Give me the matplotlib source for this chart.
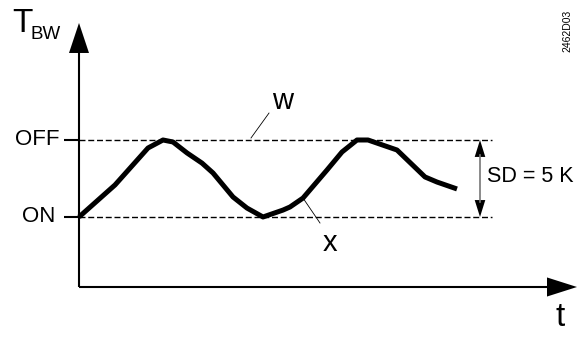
import numpy as np
import matplotlib
matplotlib.use('Agg')
import matplotlib.pyplot as plt

# switching band of the boiler water temperature (K above ON point)
sd = 5.0
on_level = 0.0
off_level = on_level + sd

# actual value x over time (arbitrary time units)
time = [0, 3.6, 6.9, 8.4, 9.4, 10.8, 12.3, 13.4, 15.4, 16.8, 18.4, 20.4,
        21.1, 22.4, 24.8, 26.3, 27.8, 28.9, 31.8, 34.6, 35.8, 37.8]
temp = [0, 2.08, 4.48, 5.0, 4.87, 4.16, 3.5, 2.86, 1.3, 0.58, 0.0, 0.45,
        0.65, 1.23, 3.05, 4.22, 5.0, 5.0, 4.35, 2.6, 2.27, 1.82]

level_labels = ['OFF', 'ON']

plt.rcParams['font.family'] = ['Liberation Sans', 'DejaVu Sans']

fig = plt.figure(figsize=(5.79, 3.38), dpi=100)
ax = fig.add_axes([0, 0, 1, 1])
ax.set_xlim(-7.9, 50)
ax.set_ylim(-7.857, 14.09)
ax.axis('off')

x_end = 41.3
base = -4.545

# axes with arrow heads
ax.plot([0, 0], [base, 10.8], color='black', lw=1.5, solid_capstyle='butt')
ax.plot([0, 47.0], [base, base], color='black', lw=1.5, solid_capstyle='butt')
ax.fill([-1.0, 1.0, 0], [10.65, 10.65, 12.6], color='black', lw=0)
ax.fill([46.8, 46.8, 49.8], [base - 0.62, base + 0.62, base], color='black', lw=0)

# switching levels
for lvl in (off_level, on_level):
    ax.plot([-1.5, 0], [lvl, lvl], color='black', lw=1.5, solid_capstyle='butt')
    ax.plot([0, x_end], [lvl, lvl], color='black', lw=1.0, dashes=(4.3, 2.0))

ax.text(-2.0, off_level + 0.05, level_labels[0], ha='right', va='center', fontsize=16)
ax.text(-2.4, on_level + 0.05, level_labels[1], ha='right', va='center', fontsize=16)

# actual temperature curve
ax.plot(time, temp, color='black', lw=3.6, solid_joinstyle='round',
        solid_capstyle='butt')

# switching differential arrow
ax.plot([40.1, 40.1], [on_level + 1.0, off_level - 1.0], color='#777777', lw=1.2)
ax.fill([39.57, 40.63, 40.1], [off_level - 1.1, off_level - 1.1, off_level],
        color='black', lw=0)
ax.fill([39.57, 40.63, 40.1], [on_level + 1.1, on_level + 1.1, on_level],
        color='black', lw=0)
ax.text(40.8, 2.6, 'SD = 5 K', ha='left', va='center', fontsize=15.5)

# labels w and x with leader lines
ax.plot([19.0, 17.2], [6.75, 5.13], color='black', lw=0.6)
ax.text(20.35, 7.01, 'w', ha='center', va='baseline', fontsize=21)
ax.plot([22.4, 24.1], [1.23, -0.39], color='black', lw=0.6)
ax.text(25.1, -2.21, 'x', ha='center', va='baseline', fontsize=21)

# axis titles
ax.text(-6.7, 12.01, 'T', ha='left', va='baseline', fontsize=24)
ax.text(-4.8, 11.56, 'BW', ha='left', va='baseline', fontsize=13.5)
ax.text(48.1, -7.08, 't', ha='center', va='baseline', fontsize=24)

ax.text(48.8, 12.08, '2462D03', rotation=90, ha='center', va='center', fontsize=7.5)

fig.savefig('out.png', dpi=100)
